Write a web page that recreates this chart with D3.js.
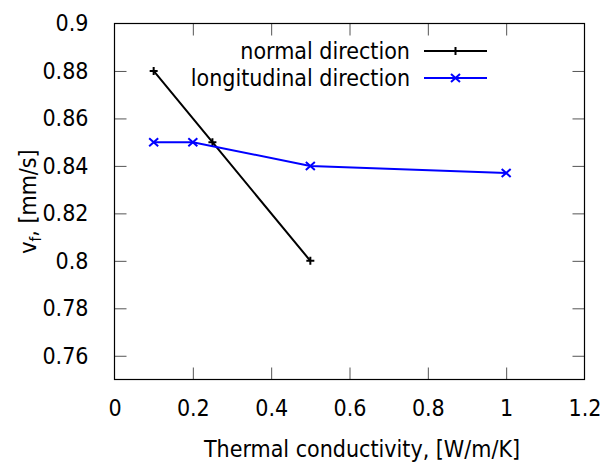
<!DOCTYPE html>
<html><head><meta charset="utf-8">
<script src="https://cdn.jsdelivr.net/npm/d3@7"></script>
<style>
body{margin:0;background:#fff;}
text{font-family:"DejaVu Sans Condensed","DejaVu Sans",sans-serif;font-stretch:condensed;}
</style></head>
<body><svg id="c" width="606" height="463"></svg>
<script>
const normalX = [0.1, 0.25, 0.5];
const normalY = [0.88, 0.85, 0.80];
const longX = [0.1, 0.2, 0.5, 1.0];
const longY = [0.85, 0.85, 0.84, 0.837];
const xTicks = [0, 0.2, 0.4, 0.6, 0.8, 1, 1.2];
const yTicks = [0.76, 0.78, 0.8, 0.82, 0.84, 0.86, 0.88, 0.9];
const seriesNames = ["normal direction", "longitudinal direction"];

const svg = d3.select("#c");
const L = 114.5, R = 584.5, T = 23.5, B = 379.5;
const x = d3.scaleLinear().domain([0, 1.2]).range([L, R]);
const y = d3.scaleLinear().domain([0.75, 0.9]).range([B, T]);
const fs = 23, tl = 12;

const fmt = d => String(+d.toFixed(2));
const gb = svg.append("g").attr("transform", `translate(0,${B})`)
  .call(d3.axisBottom(x).tickValues(xTicks).tickFormat(fmt).tickSizeInner(-tl).tickSizeOuter(0).tickPadding(20));
const gt = svg.append("g").attr("transform", `translate(0,${T})`)
  .call(d3.axisTop(x).tickValues(xTicks).tickFormat("").tickSizeInner(-tl).tickSizeOuter(0));
const gl = svg.append("g").attr("transform", `translate(${L},0)`)
  .call(d3.axisLeft(y).tickValues(yTicks).tickFormat(fmt).tickSizeInner(-tl).tickSizeOuter(0).tickPadding(26));
const gr = svg.append("g").attr("transform", `translate(${R},0)`)
  .call(d3.axisRight(y).tickValues(yTicks).tickFormat("").tickSizeInner(-tl).tickSizeOuter(0));
[gb, gt, gl, gr].forEach(g => {
  g.select(".domain").remove();
  g.selectAll(".tick line").attr("stroke", "#555").attr("stroke-width", 1);
  g.selectAll(".tick text").attr("font-size", fs).attr("fill", "#000")
    .style("font-family", '"DejaVu Sans Condensed","DejaVu Sans",sans-serif');
});
[gb, gt].forEach(g => g.selectAll(".tick").filter(d => d === 0 || d === 1.2).select("line").remove());
gl.selectAll(".tick").filter(d => d === 0.9).select("line").remove();
gr.selectAll(".tick").filter(d => d === 0.9).select("line").remove();

svg.append("rect").attr("x", L).attr("y", T).attr("width", R - L).attr("height", B - T)
  .attr("fill", "none").attr("stroke", "#000").attr("stroke-width", 1.2);

const line = d3.line().x(d => x(d[0])).y(d => y(d[1]));
const nData = normalX.map((v, i) => [v, normalY[i]]);
const lData = longX.map((v, i) => [v, longY[i]]);

function plus(g, cx, cy, col) {
  g.append("path").attr("d", `M${cx-4},${cy}H${cx+4}M${cx},${cy-4}V${cy+4}`).attr("stroke", col).attr("stroke-width", 2);
}
function cross(g, cx, cy, col) {
  g.append("path").attr("d", `M${cx-4.5},${cy-4}L${cx+4.5},${cy+4}M${cx-4.5},${cy+4}L${cx+4.5},${cy-4}`).attr("stroke", col).attr("stroke-width", 2);
}

svg.append("path").datum(nData).attr("d", line).attr("fill", "none").attr("stroke", "#000").attr("stroke-width", 2);
nData.forEach(d => plus(svg, x(d[0]), y(d[1]), "#000"));
svg.append("path").datum(lData).attr("d", line).attr("fill", "none").attr("stroke", "#0000ff").attr("stroke-width", 2);
lData.forEach(d => cross(svg, x(d[0]), y(d[1]), "#0000ff"));

const lg = svg.append("g");
const rows = [{name: seriesNames[0], col: "#000", mk: plus, yy: 51},
              {name: seriesNames[1], col: "#0000ff", mk: cross, yy: 78}];
rows.forEach(r => {
  lg.append("text").attr("x", 410).attr("y", r.yy).attr("dy", "0.35em").attr("text-anchor", "end")
    .attr("font-size", fs).attr("fill", "#000").text(r.name);
  lg.append("line").attr("x1", 424).attr("x2", 487).attr("y1", r.yy).attr("y2", r.yy).attr("stroke", r.col).attr("stroke-width", 2);
  r.mk(lg, 455.5, r.yy, r.col);
});

svg.append("text").attr("x", 362).attr("y", 457).attr("text-anchor", "middle").attr("font-size", fs)
  .text("Thermal conductivity, [W/m/K]");
const yl = svg.append("text").attr("transform", `translate(36,${(T + B) / 2}) rotate(-90)`)
  .attr("text-anchor", "middle").attr("font-size", fs);
yl.append("tspan").text("v");
yl.append("tspan").attr("font-size", 15).attr("dy", 5).text("f");
yl.append("tspan").attr("dy", -5).text(", [mm/s]");
</script></body></html>
